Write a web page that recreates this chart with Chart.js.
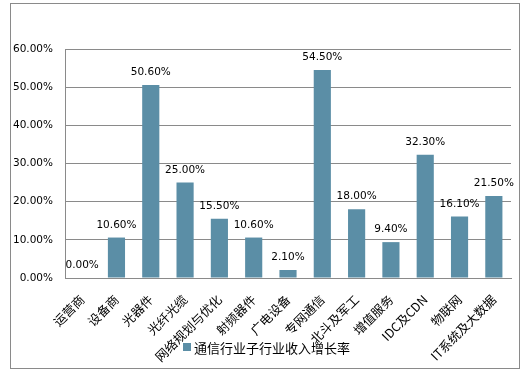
<!DOCTYPE html>
<html>
<head>
<meta charset="utf-8">
<script src="https://cdn.jsdelivr.net/npm/chart.js@4"></script>
<style>
  html, body { margin: 0; padding: 0; background: #fff; }
  #wrap { position: relative; width: 529px; height: 373px; overflow: hidden; }
  #frame { position: absolute; left: 10px; top: 3px; width: 508px; height: 364px; border: 1px solid #8a8a8a; pointer-events: none; }
  canvas { position: absolute; left: 0; top: 0; }
  #legend { position: absolute; left: 183px; top: 338px; height: 18px; display: flex; align-items: center;
            font-family: "Noto Sans CJK SC", sans-serif; font-size: 13px; color: #000; white-space: nowrap; }
  #legend .box { width: 8px; height: 8px; margin-right: 3px; }
</style>
</head>
<body>
<div id="wrap">
  <canvas id="c" width="529" height="373"></canvas>
  <div id="frame"></div>
  <div id="legend"><span class="box" id="lbox"></span><span id="ltext"></span></div>
</div>
<script>
const categories = ["运营商", "设备商", "光器件", "光纤光缆", "网络规划与优化", "射频器件", "广电设备", "专网通信", "北斗及军工", "增值服务", "IDC及CDN", "物联网", "IT系统及大数据"];
const growthRates = [0, 10.6, 50.6, 25.0, 15.5, 10.6, 2.1, 54.5, 18.0, 9.4, 32.3, 16.1, 21.5];
const seriesName = "通信行业子行业收入增长率";
const yTicks = [0, 10, 20, 30, 40, 50, 60];

const barColor = "#5b8ea6";
const gridColor = "#8a8a8a";

document.getElementById("lbox").style.background = barColor;
document.getElementById("ltext").textContent = seriesName;

const valueLabels = {
  id: "valueLabels",
  afterDatasetsDraw(chart) {
    const ctx = chart.ctx;
    ctx.save();
    ctx.font = "10.5px 'DejaVu Sans', sans-serif";
    ctx.fillStyle = "#000";
    ctx.textAlign = "center";
    ctx.textBaseline = "alphabetic";
    const meta = chart.getDatasetMeta(0);
    meta.data.forEach((bar, i) => {
      const v = chart.data.datasets[0].data[i];
      ctx.fillText(v.toFixed(2) + "%", bar.x, bar.y - 10);
    });
    ctx.restore();
  }
};

new Chart(document.getElementById("c"), {
  type: "bar",
  data: {
    labels: categories,
    datasets: [{
      label: seriesName,
      data: growthRates,
      backgroundColor: barColor,
      borderWidth: 0,
      barPercentage: 0.5,
      categoryPercentage: 1.0
    }]
  },
  options: {
    responsive: false,
    animation: false,
    devicePixelRatio: 1,
    layout: { padding: { left: 0, right: 18, top: 49, bottom: 0 } },
    plugins: {
      legend: { display: false },
      tooltip: { enabled: false }
    },
    scales: {
      x: {
        grid: { display: false, drawTicks: false },
        border: { display: true, color: gridColor, width: 1 },
        ticks: {
          autoSkip: false,
          minRotation: 45,
          maxRotation: 45,
          padding: 14,
          color: "#000",
          font: { family: "'Noto Sans CJK SC', sans-serif", size: 12.5 }
        },
        afterFit(scale) { scale.height = 95; }
      },
      y: {
        min: 0,
        max: 60,
        afterBuildTicks(scale) { scale.ticks = yTicks.map(v => ({ value: v })); },
        grid: { color: gridColor, lineWidth: 1, drawTicks: false },
        border: { display: true, color: gridColor, width: 1 },
        ticks: {
          padding: 12,
          color: "#000",
          font: { family: "'DejaVu Sans', sans-serif", size: 10.5 },
          callback: v => Number(v).toFixed(2) + "%"
        },
        afterFit(scale) { scale.width = 65; }
      }
    }
  },
  plugins: [valueLabels]
});
</script>
</body>
</html>
